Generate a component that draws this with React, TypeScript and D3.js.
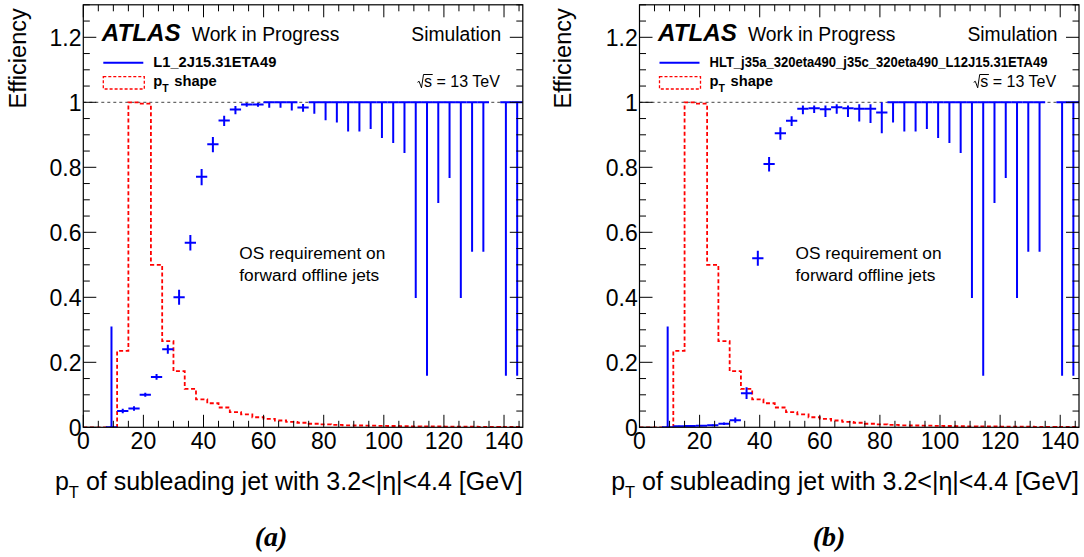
import React from 'react';
import * as d3 from 'd3';

// ---------- data ----------
const BIN_WIDTH = 3.75;
const N_BINS = 39;
const X_MAX = N_BINS * BIN_WIDTH; // 146.25 GeV
const Y_MAX = 1.3;

const xTickValues = [0, 20, 40, 60, 80, 100, 120, 140];
const xTickLabels = ['0', '20', '40', '60', '80', '100', '120', '140'];
const yTickValues = [0, 0.2, 0.4, 0.6, 0.8, 1, 1.2];
const yTickLabels = ['0', '0.2', '0.4', '0.6', '0.8', '1', '1.2'];

// normalised pT shape of the subleading forward jet (same selection in both panels)
const ptShape = [
  0, 0, 0, 0.235, 1.0, 0.996, 0.5, 0.265, 0.173, 0.118,
  0.086, 0.074, 0.061, 0.047, 0.04, 0.031, 0.026, 0.021, 0.017, 0.014,
  0.011, 0.009, 0.0075, 0.0062, 0.0055, 0.005, 0.0045, 0.004, 0.0035, 0.003,
  0.0028, 0.0025, 0.0022, 0.002, 0.0018, 0.0016, 0.0014, 0.0012, 0.001,
];

// (a) L1_2J15.31ETA49
const effA: (number | null)[] = [
  null, null, 0, 0.05, 0.058, 0.1, 0.155, 0.24, 0.4, 0.568,
  0.771, 0.871, 0.944, 0.978, 0.993, 0.993, 1, 1, 1, 0.984,
  1, 1, 1, 1, 1, 1, 1, 1, 1, 1,
  1, 1, 1, 1, 1, 1, null, 1, 1,
];
const errLowA = [
  0, 0, 0, 0.007, 0.007, 0.006, 0.009, 0.014, 0.023, 0.024,
  0.026, 0.025, 0.017, 0.015, 0.007, 0.007, 0.017, 0.017, 0.025, 0.013,
  0.035, 0.055, 0.062, 0.09, 0.09, 0.082, 0.11, 0.125, 0.156, 0.602,
  0.841, 0.31, 0.233, 0.602, 0.46, 0.46, 0, 0.841, 0.841,
];
const errHighA = [
  0, 0, 0.31, 0.007, 0.007, 0.006, 0.009, 0.014, 0.023, 0.024,
  0.024, 0.022, 0.015, 0.011, 0.005, 0.005, 0, 0, 0, 0.011,
  0, 0, 0, 0, 0, 0, 0, 0, 0, 0,
  0, 0, 0, 0, 0, 0, 0, 0, 0,
];

// (b) HLT_j35a_320eta490_j35c_320eta490_L12J15.31ETA49
const effB: (number | null)[] = [
  null, null, 0, 0.003, 0.004, 0.005, 0.006, 0.011, 0.022, 0.105,
  0.52, 0.81, 0.905, 0.943, 0.98, 0.982, 0.979, 0.985, 0.982, 0.98,
  0.98, 0.969, 1, 1, 1, 1, 1, 1, 1, 1,
  1, 1, 1, 1, 1, 1, null, 1, 1,
];
const errLowB = [
  0, 0, 0, 0.002, 0.002, 0.002, 0.003, 0.004, 0.008, 0.018,
  0.023, 0.023, 0.02, 0.016, 0.017, 0.015, 0.024, 0.02, 0.027, 0.039,
  0.044, 0.064, 0.062, 0.09, 0.09, 0.082, 0.11, 0.125, 0.156, 0.602,
  0.841, 0.31, 0.233, 0.602, 0.46, 0.46, 0, 0.841, 0.841,
];
const errHighB = [
  0, 0, 0.31, 0.002, 0.002, 0.002, 0.003, 0.004, 0.008, 0.018,
  0.023, 0.022, 0.018, 0.014, 0.01, 0.008, 0.011, 0.009, 0.008, 0.014,
  0.014, 0.031, 0, 0, 0, 0, 0, 0, 0, 0,
  0, 0, 0, 0, 0, 0, 0, 0, 0,
];

const triggerA = 'L1_2J15.31ETA49';
const triggerB = 'HLT_j35a_320eta490_j35c_320eta490_L12J15.31ETA49';

// ---------- drawing ----------
const FONT = "'Liberation Sans', Arial, Helvetica, sans-serif";
const BLUE = '#0000ff';
const RED = '#ff0000';
const Y_BOTTOM = 427.3;
const PX_PER_UNIT = 325;

type PanelProps = {
  id: string;
  x0: number;
  x1: number;
  yTitleX: number;
  eff: (number | null)[];
  lo: number[];
  hi: number[];
  trigger: string;
  triggerLength?: number;
};

function Panel({ id, x0, x1, yTitleX, eff, lo, hi, trigger, triggerLength }: PanelProps) {
  const x = d3.scaleLinear().domain([0, X_MAX]).range([x0, x1]);
  const y = d3
    .scaleLinear()
    .domain([0, Y_MAX])
    .range([Y_BOTTOM, Y_BOTTOM - PX_PER_UNIT * Y_MAX]);
  const yTop = y(Y_MAX);

  const histPts: [number, number][] = [];
  ptShape.forEach((v, i) => {
    histPts.push([i * BIN_WIDTH, v]);
    histPts.push([(i + 1) * BIN_WIDTH, v]);
  });
  const histLine = d3
    .line<[number, number]>()
    .x((d) => x(d[0]))
    .y((d) => y(d[1]));

  const xMinor = d3.range(0, X_MAX, 5);
  const yMinor = d3.range(0, Y_MAX + 0.001, 0.05);
  const MAJ = 12.5;
  const MIN = 6.5;

  const sqrtStart = x1 - 98.7; // start of "s = 13 TeV"
  const sqrtBase = 87.3;

  return (
    <g>
      <defs>
        <clipPath id={`clip-${id}`}>
          <rect x={x0} y={yTop} width={x1 - x0} height={Y_BOTTOM - yTop} />
        </clipPath>
      </defs>
      <rect x={x0} y={yTop} width={x1 - x0} height={Y_BOTTOM - yTop} fill="white" />

      <g clipPath={`url(#clip-${id})`}>
        {/* unity line */}
        <line
          x1={x0}
          x2={x1}
          y1={y(1)}
          y2={y(1)}
          stroke="#444"
          strokeWidth={1}
          strokeDasharray="3 3"
        />
        {/* pT shape */}
        <path
          d={histLine(histPts) || ''}
          fill="none"
          stroke={RED}
          strokeWidth={1.8}
          strokeDasharray="4 2.6"
        />
        {/* efficiency */}
        {eff.map((v, i) => {
          if (v === null) return null;
          const cx = x((i + 0.5) * BIN_WIDTH);
          return (
            <g key={i} stroke={BLUE} strokeWidth={2}>
              <line x1={x(i * BIN_WIDTH)} x2={x((i + 1) * BIN_WIDTH)} y1={y(v)} y2={y(v)} />
              <line x1={cx} x2={cx} y1={y(v - lo[i])} y2={y(v + hi[i])} />
            </g>
          );
        })}
      </g>

      {/* frame */}
      <rect
        x={x0}
        y={yTop}
        width={x1 - x0}
        height={Y_BOTTOM - yTop}
        fill="none"
        stroke="black"
        strokeWidth={1.2}
      />

      {/* x ticks (bottom & top) */}
      {xMinor.map((t) => {
        const major = t % 20 === 0;
        const L = major ? MAJ : MIN;
        return (
          <g key={`xt${t}`} stroke="black" strokeWidth={1}>
            <line x1={x(t)} x2={x(t)} y1={Y_BOTTOM} y2={Y_BOTTOM - L} />
            <line x1={x(t)} x2={x(t)} y1={yTop} y2={yTop + L} />
          </g>
        );
      })}
      {/* y ticks (left & right) */}
      {yMinor.map((t, k) => {
        const major = k % 4 === 0;
        const L = major ? MAJ + 0.5 : MIN;
        return (
          <g key={`yt${k}`} stroke="black" strokeWidth={1}>
            <line x1={x0} x2={x0 + L} y1={y(t)} y2={y(t)} />
            <line x1={x1} x2={x1 - L} y1={y(t)} y2={y(t)} />
          </g>
        );
      })}

      {/* tick labels */}
      <g fontFamily={FONT} fontSize={23} fill="black">
        {xTickValues.map((t, i) => (
          <text key={`xl${t}`} x={x(t)} y={449.3} textAnchor="middle">
            {xTickLabels[i]}
          </text>
        ))}
        {yTickValues.map((t, i) => (
          <text key={`yl${t}`} x={x0 - 1.8} y={y(t) + 8.2} textAnchor="end">
            {yTickLabels[i]}
          </text>
        ))}
      </g>

      {/* axis titles */}
      <text
        fontFamily={FONT}
        fontSize={23.5}
        textAnchor="end"
        transform={`translate(${yTitleX},8.3) rotate(-90)`}
      >
        Efficiency
      </text>
      <text fontFamily={FONT} fontSize={25} x={x1} y={490} textAnchor="end">
        <tspan>p</tspan>
        <tspan fontSize={16.5} dy={8}>T</tspan>
        <tspan dy={-8}> of subleading jet with 3.2&lt;|η|&lt;4.4 [GeV]</tspan>
      </text>

      {/* ATLAS label */}
      <text fontFamily={FONT} y={41}>
        <tspan x={x0 + 18.5} fontWeight="bold" fontStyle="italic" fontSize={24.2}>
          ATLAS
        </tspan>
        <tspan x={x0 + 108.5} fontSize={19.3}>
          Work in Progress
        </tspan>
      </text>
      <text fontFamily={FONT} fontSize={19.3} x={x1 - 21.5} y={41} textAnchor="end">
        Simulation
      </text>

      {/* legend */}
      <line x1={x0 + 20} x2={x0 + 60} y1={62.7} y2={62.7} stroke={BLUE} strokeWidth={2} />
      <text
        fontFamily={FONT}
        fontWeight="bold"
        fontSize={triggerLength ? 13.8 : 14.7}
        x={x0 + 70}
        y={67.3}
        textLength={triggerLength}
        lengthAdjust={triggerLength ? 'spacingAndGlyphs' : undefined}
      >
        {trigger}
      </text>
      <rect
        x={x0 + 20}
        y={76.7}
        width={41}
        height={12.3}
        fill="none"
        stroke={RED}
        strokeWidth={1.3}
        strokeDasharray="3 2"
      />
      <text fontFamily={FONT} fontWeight="bold" fontSize={14.7} x={x0 + 70} y={85.7}>
        <tspan>p</tspan>
        <tspan fontSize={10.5} dy={6.5}>T</tspan>
        <tspan dy={-6.5} dx={1.5}> shape</tspan>
      </text>

      {/* sqrt(s) */}
      <path
        d={`M${sqrtStart - 6.6},${sqrtBase - 5} L${sqrtStart - 5},${sqrtBase - 6} L${sqrtStart - 2.6},${sqrtBase + 0.5} L${sqrtStart - 0.6},${sqrtBase - 12.8} L${sqrtStart + 8.6},${sqrtBase - 12.8}`}
        fill="none"
        stroke="black"
        strokeWidth={1}
      />
      <text fontFamily={FONT} fontSize={16} x={sqrtStart} y={sqrtBase}>
        s = 13 TeV
      </text>

      {/* annotation */}
      <text fontFamily={FONT} fontSize={17.3}>
        <tspan x={x0 + 156} y={259.3}>OS requirement on</tspan>
        <tspan x={x0 + 156} y={280.7}>forward offline jets</tspan>
      </text>
    </g>
  );
}

export default function App() {
  return (
    <div style={{ position: 'absolute', left: 0, top: 0 }}>
      <svg width={1084} height={557} style={{ display: 'block', background: 'white' }}>
        <rect width={1084} height={557} fill="white" />
        <Panel
          id="a"
          x0={83.3}
          x1={522.8}
          yTitleX={25.5}
          eff={effA}
          lo={errLowA}
          hi={errHighA}
          trigger={triggerA}
        />
        <Panel
          id="b"
          x0={639.5}
          x1={1079}
          yTitleX={570.5}
          eff={effB}
          lo={errLowB}
          hi={errHighB}
          trigger={triggerB}
          triggerLength={338}
        />
        <g
          fontFamily="'Liberation Serif', 'Times New Roman', serif"
          fontWeight="bold"
          fontStyle="italic"
          fontSize={28}
        >
          <text x={271} y={546} textAnchor="middle">(a)</text>
          <text x={829} y={546} textAnchor="middle">(b)</text>
        </g>
      </svg>
    </div>
  );
}
